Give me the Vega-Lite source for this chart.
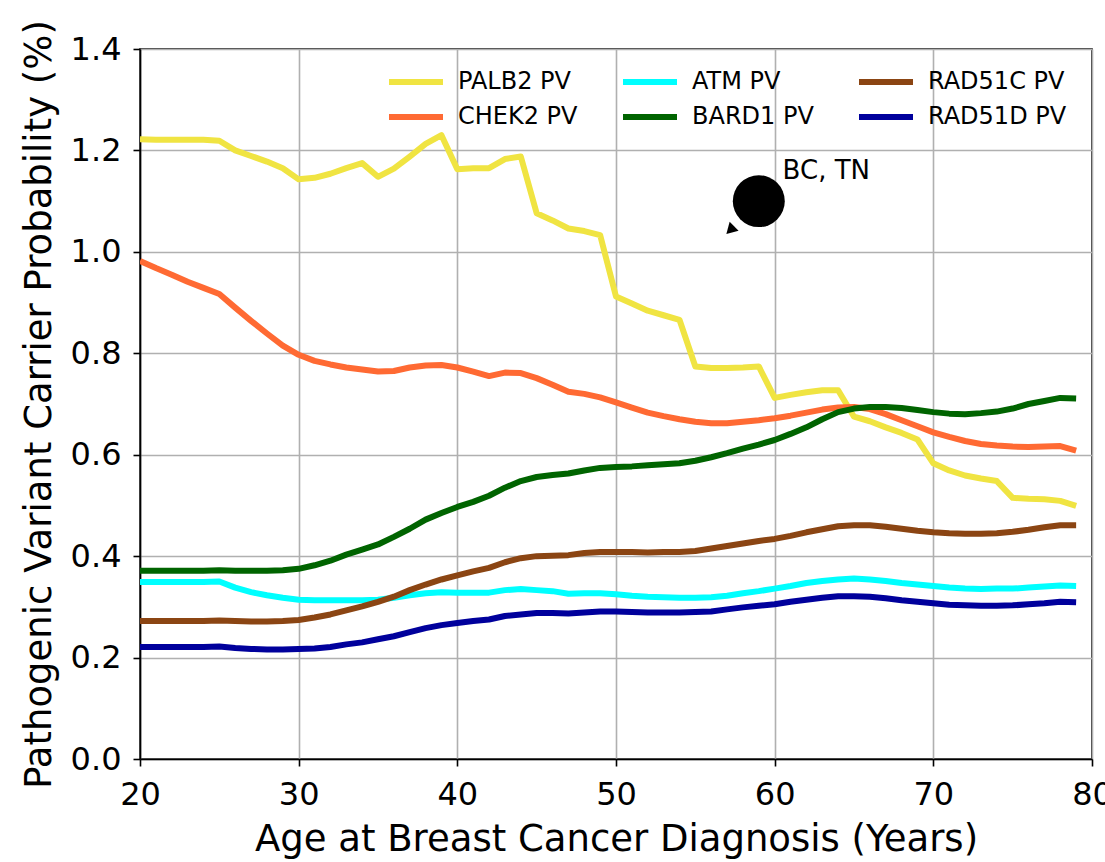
{
  "$schema": "https://vega.github.io/schema/vega-lite/v6.json",
  "width": 952,
  "height": 710,
  "autosize": {"type": "none"},
  "padding": {"left": 140, "top": 49, "right": 13, "bottom": 103},
  "background": "white",
  "config": {
    "font": "DejaVu Sans",
    "view": {"stroke": "black", "strokeWidth": 1.6},
    "axis": {
      "domainColor": "black", "domainWidth": 1.6,
      "tickColor": "black", "tickWidth": 1.6, "tickSize": 7,
      "labelFontSize": 32, "labelColor": "black",
      "titleFontSize": 37, "titleColor": "black", "titleFontWeight": "normal",
      "gridColor": "#b0b0b0", "gridWidth": 1.6
    },
    "legend": {
      "orient": "none", "legendX": 246, "legendY": 21,
      "columns": 3, "padding": 0, "labelFontSize": 24, "labelColor": "black",
      "symbolType": "M-1,0H5", "symbolSize": 324, "symbolStrokeWidth": 6,
      "labelOffset": 48, "columnPadding": 33, "rowPadding": 11, "title": null
    }
  },
  "datasets": {
    "curves": [
      {"age":20,"PALB2":1.222,"CHEK2":0.982,"ATM":0.349,"BARD1":0.371,"RAD51C":0.272,"RAD51D":0.221},
      {"age":21,"PALB2":1.221,"CHEK2":0.968,"ATM":0.349,"BARD1":0.371,"RAD51C":0.272,"RAD51D":0.221},
      {"age":22,"PALB2":1.221,"CHEK2":0.955,"ATM":0.349,"BARD1":0.371,"RAD51C":0.272,"RAD51D":0.221},
      {"age":23,"PALB2":1.221,"CHEK2":0.941,"ATM":0.349,"BARD1":0.371,"RAD51C":0.272,"RAD51D":0.221},
      {"age":24,"PALB2":1.221,"CHEK2":0.929,"ATM":0.349,"BARD1":0.371,"RAD51C":0.272,"RAD51D":0.221},
      {"age":25,"PALB2":1.219,"CHEK2":0.917,"ATM":0.350,"BARD1":0.372,"RAD51C":0.273,"RAD51D":0.222},
      {"age":26,"PALB2":1.200,"CHEK2":0.890,"ATM":0.338,"BARD1":0.371,"RAD51C":0.272,"RAD51D":0.219},
      {"age":27,"PALB2":1.189,"CHEK2":0.864,"ATM":0.329,"BARD1":0.371,"RAD51C":0.271,"RAD51D":0.217},
      {"age":28,"PALB2":1.178,"CHEK2":0.839,"ATM":0.323,"BARD1":0.371,"RAD51C":0.271,"RAD51D":0.216},
      {"age":29,"PALB2":1.165,"CHEK2":0.815,"ATM":0.318,"BARD1":0.372,"RAD51C":0.272,"RAD51D":0.216},
      {"age":30,"PALB2":1.143,"CHEK2":0.797,"ATM":0.314,"BARD1":0.375,"RAD51C":0.274,"RAD51D":0.217},
      {"age":31,"PALB2":1.146,"CHEK2":0.785,"ATM":0.313,"BARD1":0.382,"RAD51C":0.279,"RAD51D":0.218},
      {"age":32,"PALB2":1.154,"CHEK2":0.778,"ATM":0.313,"BARD1":0.391,"RAD51C":0.285,"RAD51D":0.221},
      {"age":33,"PALB2":1.165,"CHEK2":0.772,"ATM":0.313,"BARD1":0.403,"RAD51C":0.293,"RAD51D":0.226},
      {"age":34,"PALB2":1.175,"CHEK2":0.768,"ATM":0.313,"BARD1":0.413,"RAD51C":0.301,"RAD51D":0.230},
      {"age":35,"PALB2":1.148,"CHEK2":0.764,"ATM":0.314,"BARD1":0.423,"RAD51C":0.310,"RAD51D":0.236},
      {"age":36,"PALB2":1.164,"CHEK2":0.765,"ATM":0.318,"BARD1":0.438,"RAD51C":0.320,"RAD51D":0.242},
      {"age":37,"PALB2":1.188,"CHEK2":0.772,"ATM":0.323,"BARD1":0.454,"RAD51C":0.333,"RAD51D":0.250},
      {"age":38,"PALB2":1.213,"CHEK2":0.776,"ATM":0.327,"BARD1":0.472,"RAD51C":0.344,"RAD51D":0.258},
      {"age":39,"PALB2":1.230,"CHEK2":0.777,"ATM":0.329,"BARD1":0.485,"RAD51C":0.354,"RAD51D":0.264},
      {"age":40,"PALB2":1.163,"CHEK2":0.772,"ATM":0.328,"BARD1":0.497,"RAD51C":0.362,"RAD51D":0.268},
      {"age":41,"PALB2":1.165,"CHEK2":0.764,"ATM":0.328,"BARD1":0.507,"RAD51C":0.370,"RAD51D":0.272},
      {"age":42,"PALB2":1.165,"CHEK2":0.755,"ATM":0.328,"BARD1":0.519,"RAD51C":0.377,"RAD51D":0.275},
      {"age":43,"PALB2":1.183,"CHEK2":0.762,"ATM":0.333,"BARD1":0.535,"RAD51C":0.388,"RAD51D":0.282},
      {"age":44,"PALB2":1.188,"CHEK2":0.761,"ATM":0.335,"BARD1":0.548,"RAD51C":0.396,"RAD51D":0.285},
      {"age":45,"PALB2":1.076,"CHEK2":0.751,"ATM":0.333,"BARD1":0.556,"RAD51C":0.400,"RAD51D":0.288},
      {"age":46,"PALB2":1.062,"CHEK2":0.738,"ATM":0.331,"BARD1":0.560,"RAD51C":0.401,"RAD51D":0.288},
      {"age":47,"PALB2":1.046,"CHEK2":0.724,"ATM":0.326,"BARD1":0.563,"RAD51C":0.402,"RAD51D":0.287},
      {"age":48,"PALB2":1.041,"CHEK2":0.720,"ATM":0.327,"BARD1":0.569,"RAD51C":0.406,"RAD51D":0.289},
      {"age":49,"PALB2":1.033,"CHEK2":0.713,"ATM":0.327,"BARD1":0.574,"RAD51C":0.408,"RAD51D":0.291},
      {"age":50,"PALB2":0.912,"CHEK2":0.703,"ATM":0.325,"BARD1":0.576,"RAD51C":0.408,"RAD51D":0.291},
      {"age":51,"PALB2":0.898,"CHEK2":0.693,"ATM":0.322,"BARD1":0.577,"RAD51C":0.408,"RAD51D":0.290},
      {"age":52,"PALB2":0.884,"CHEK2":0.683,"ATM":0.320,"BARD1":0.579,"RAD51C":0.407,"RAD51D":0.289},
      {"age":53,"PALB2":0.875,"CHEK2":0.676,"ATM":0.319,"BARD1":0.581,"RAD51C":0.408,"RAD51D":0.289},
      {"age":54,"PALB2":0.866,"CHEK2":0.670,"ATM":0.318,"BARD1":0.583,"RAD51C":0.408,"RAD51D":0.289},
      {"age":55,"PALB2":0.774,"CHEK2":0.665,"ATM":0.318,"BARD1":0.588,"RAD51C":0.410,"RAD51D":0.290},
      {"age":56,"PALB2":0.771,"CHEK2":0.662,"ATM":0.319,"BARD1":0.595,"RAD51C":0.415,"RAD51D":0.291},
      {"age":57,"PALB2":0.771,"CHEK2":0.662,"ATM":0.322,"BARD1":0.603,"RAD51C":0.420,"RAD51D":0.295},
      {"age":58,"PALB2":0.772,"CHEK2":0.665,"ATM":0.327,"BARD1":0.612,"RAD51C":0.425,"RAD51D":0.299},
      {"age":59,"PALB2":0.774,"CHEK2":0.668,"ATM":0.331,"BARD1":0.620,"RAD51C":0.430,"RAD51D":0.302},
      {"age":60,"PALB2":0.712,"CHEK2":0.672,"ATM":0.336,"BARD1":0.629,"RAD51C":0.434,"RAD51D":0.305},
      {"age":61,"PALB2":0.718,"CHEK2":0.677,"ATM":0.341,"BARD1":0.641,"RAD51C":0.440,"RAD51D":0.310},
      {"age":62,"PALB2":0.723,"CHEK2":0.683,"ATM":0.347,"BARD1":0.654,"RAD51C":0.447,"RAD51D":0.314},
      {"age":63,"PALB2":0.727,"CHEK2":0.689,"ATM":0.351,"BARD1":0.670,"RAD51C":0.453,"RAD51D":0.318},
      {"age":64,"PALB2":0.727,"CHEK2":0.693,"ATM":0.354,"BARD1":0.684,"RAD51C":0.459,"RAD51D":0.321},
      {"age":65,"PALB2":0.675,"CHEK2":0.694,"ATM":0.356,"BARD1":0.691,"RAD51C":0.461,"RAD51D":0.321},
      {"age":66,"PALB2":0.666,"CHEK2":0.690,"ATM":0.354,"BARD1":0.694,"RAD51C":0.461,"RAD51D":0.320},
      {"age":67,"PALB2":0.654,"CHEK2":0.680,"ATM":0.351,"BARD1":0.694,"RAD51C":0.458,"RAD51D":0.317},
      {"age":68,"PALB2":0.643,"CHEK2":0.668,"ATM":0.347,"BARD1":0.692,"RAD51C":0.454,"RAD51D":0.313},
      {"age":69,"PALB2":0.630,"CHEK2":0.656,"ATM":0.344,"BARD1":0.688,"RAD51C":0.450,"RAD51D":0.310},
      {"age":70,"PALB2":0.583,"CHEK2":0.644,"ATM":0.341,"BARD1":0.684,"RAD51C":0.447,"RAD51D":0.307},
      {"age":71,"PALB2":0.569,"CHEK2":0.635,"ATM":0.338,"BARD1":0.681,"RAD51C":0.445,"RAD51D":0.304},
      {"age":72,"PALB2":0.559,"CHEK2":0.627,"ATM":0.336,"BARD1":0.680,"RAD51C":0.444,"RAD51D":0.303},
      {"age":73,"PALB2":0.553,"CHEK2":0.621,"ATM":0.335,"BARD1":0.682,"RAD51C":0.444,"RAD51D":0.302},
      {"age":74,"PALB2":0.548,"CHEK2":0.618,"ATM":0.336,"BARD1":0.685,"RAD51C":0.445,"RAD51D":0.302},
      {"age":75,"PALB2":0.515,"CHEK2":0.616,"ATM":0.336,"BARD1":0.691,"RAD51C":0.448,"RAD51D":0.303},
      {"age":76,"PALB2":0.513,"CHEK2":0.615,"ATM":0.338,"BARD1":0.700,"RAD51C":0.452,"RAD51D":0.305},
      {"age":77,"PALB2":0.512,"CHEK2":0.616,"ATM":0.340,"BARD1":0.706,"RAD51C":0.457,"RAD51D":0.307},
      {"age":78,"PALB2":0.509,"CHEK2":0.617,"ATM":0.342,"BARD1":0.712,"RAD51C":0.461,"RAD51D":0.310},
      {"age":79,"PALB2":0.499,"CHEK2":0.608,"ATM":0.341,"BARD1":0.711,"RAD51C":0.461,"RAD51D":0.309}
    ],
    "arrowhead": [{"age": 57.2, "p": 1.043}],
    "marker": [{"age": 59, "p": 1.1}],
    "note": [{"age": 60.5, "p": 1.144, "label": "BC, TN"}]
  },
  "layer": [
    {
      "data": {"name": "curves"},
      "transform": [{"fold": ["PALB2", "CHEK2", "ATM", "BARD1", "RAD51C", "RAD51D"], "as": ["gene", "p"]}],
      "mark": {"type": "line", "strokeWidth": 6, "strokeJoin": "round", "clip": true},
      "encoding": {
        "x": {"field": "age", "type": "quantitative",
              "scale": {"domain": [20, 80], "nice": false, "zero": false},
              "axis": {"title": "Age at Breast Cancer Diagnosis (Years)", "values": [20, 30, 40, 50, 60, 70, 80],
                       "labelPadding": 13, "titlePadding": 11, "labelFlush": false}},
        "y": {"field": "p", "type": "quantitative",
              "scale": {"domain": [0, 1.4], "nice": false},
              "axis": {"title": "Pathogenic Variant Carrier Probability (%)", "values": [0, 0.2, 0.4, 0.6, 0.8, 1.0, 1.2, 1.4],
                       "format": ".1f", "labelPadding": 12, "titlePadding": 12}},
        "color": {"field": "gene", "type": "nominal",
                  "scale": {"domain": ["PALB2", "CHEK2", "ATM", "BARD1", "RAD51C", "RAD51D"],
                            "range": ["#f0e442", "#ff6a33", "#00ffff", "#006400", "#8b4513", "#00009c"]},
                  "legend": {"labelExpr": "datum.label + ' PV'"}}
      }
    },
    {
      "data": {"name": "arrowhead"},
      "mark": {"type": "point", "shape": "triangle-up", "filled": true, "color": "black", "size": 160, "angle": 225, "opacity": 1},
      "encoding": {"x": {"field": "age", "type": "quantitative"}, "y": {"field": "p", "type": "quantitative"}}
    },
    {
      "data": {"name": "marker"},
      "mark": {"type": "point", "shape": "circle", "filled": true, "color": "black", "size": 2700, "opacity": 1},
      "encoding": {"x": {"field": "age", "type": "quantitative"}, "y": {"field": "p", "type": "quantitative"}}
    },
    {
      "data": {"name": "note"},
      "mark": {"type": "text", "align": "left", "baseline": "alphabetic", "fontSize": 26, "color": "black"},
      "encoding": {"x": {"field": "age", "type": "quantitative"}, "y": {"field": "p", "type": "quantitative"},
                   "text": {"field": "label"}}
    }
  ]
}
